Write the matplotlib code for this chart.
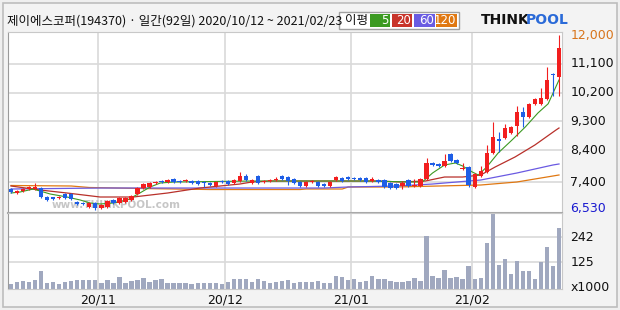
import matplotlib
matplotlib.use('Agg')
import matplotlib.pyplot as plt
from matplotlib.patches import Rectangle
import numpy as np
import pandas as pd

plt.rcParams['font.family'] = ['Noto Sans CJK KR', 'DejaVu Sans']

# trading days 2020/10/12 ~ 2021/02/23 (92)
holidays = ['2020-12-25', '2020-12-31', '2021-01-01', '2021-02-11', '2021-02-12']
dates = pd.bdate_range('2020-10-12', '2021-02-23').drop(pd.to_datetime(holidays))

opens = [7186, 7061, 7124, 7186, 7186, 7217, 6936, 6936, 6905, 7030,
         7030, 6780, 6749, 6624, 6749, 6592, 6624, 6842, 6749, 6780,
         6842, 7030, 7217, 7249, 7374, 7436, 7405, 7499, 7436, 7436,
         7436, 7436, 7405, 7374, 7280, 7436, 7436, 7374, 7436, 7592,
         7374, 7592, 7405, 7436, 7467, 7592, 7561, 7499, 7405, 7280,
         7405, 7405, 7342, 7280, 7467, 7530, 7561, 7530, 7530, 7530,
         7436, 7467, 7467, 7374, 7342, 7280, 7467, 7280, 7280, 7499,
         8000, 7968, 7905, 8281, 8093, 7812, 7874, 7249, 7592, 7718,
         8312, 8750, 8781, 8937, 9156, 9593, 9437, 9843, 9843, 10000,
         10781, 10687]
highs = [7217, 7155, 7217, 7280, 7374, 7249, 6967, 6936, 6967, 7061,
         7061, 6811, 6780, 6780, 6780, 6717, 6842, 6874, 6936, 6936,
         6999, 7249, 7374, 7405, 7436, 7467, 7499, 7530, 7467, 7499,
         7467, 7467, 7436, 7405, 7436, 7467, 7467, 7499, 7718, 7655,
         7499, 7624, 7467, 7499, 7561, 7624, 7592, 7530, 7436, 7436,
         7467, 7436, 7374, 7436, 7592, 7561, 7592, 7561, 7561, 7561,
         7561, 7499, 7499, 7405, 7374, 7436, 7499, 7499, 7530, 8155,
         8031, 8000, 8281, 8312, 8125, 8000, 7905, 7686, 7905, 8562,
         9281, 8968, 9218, 9156, 9781, 9749, 9875, 10031, 10343, 11000,
         10812, 12000]
lows = [7061, 7030, 7092, 7155, 7155, 6905, 6811, 6842, 6874, 6874,
        6842, 6686, 6686, 6592, 6530, 6561, 6592, 6717, 6717, 6749,
        6811, 6999, 7186, 7217, 7342, 7374, 7374, 7374, 7374, 7405,
        7342, 7311, 7249, 7280, 7249, 7374, 7311, 7342, 7405, 7436,
        7342, 7342, 7374, 7405, 7436, 7467, 7311, 7342, 7249, 7249,
        7374, 7249, 7249, 7249, 7436, 7405, 7467, 7467, 7436, 7374,
        7405, 7374, 7217, 7186, 7186, 7186, 7249, 7249, 7249, 7467,
        7905, 7874, 7874, 8031, 7968, 7780, 7249, 7217, 7561, 7686,
        8281, 8343, 8750, 8906, 8843, 9124, 9406, 9812, 9812, 9968,
        10093, 10093]
closes = [7092, 7124, 7186, 7249, 7249, 6936, 6842, 6874, 6936, 6905,
          6874, 6717, 6717, 6749, 6592, 6686, 6811, 6749, 6905, 6905,
          6967, 7217, 7342, 7374, 7405, 7405, 7467, 7405, 7405, 7467,
          7374, 7342, 7374, 7311, 7405, 7405, 7342, 7467, 7592, 7467,
          7467, 7374, 7436, 7467, 7499, 7499, 7436, 7374, 7280, 7405,
          7436, 7280, 7280, 7405, 7561, 7436, 7499, 7499, 7467, 7405,
          7499, 7405, 7249, 7217, 7217, 7374, 7280, 7311, 7499, 8000,
          7937, 7905, 8062, 8062, 8000, 7843, 7311, 7655, 7749, 8312,
          8812, 8687, 9093, 9124, 9593, 9437, 9843, 10000, 10031, 10594,
          10750, 11594]
volumes = [22, 32, 35, 32, 40, 82, 26, 34, 23, 31,
           37, 40, 43, 40, 40, 28, 40, 28, 54, 28,
           35, 43, 52, 34, 43, 48, 29, 28, 26, 26,
           23, 29, 26, 26, 26, 23, 31, 48, 48, 48,
           31, 48, 35, 29, 34, 38, 40, 28, 34, 34,
           32, 35, 28, 28, 62, 57, 40, 48, 31, 35,
           62, 48, 45, 35, 34, 34, 38, 52, 35, 248,
           62, 52, 89, 52, 57, 48, 108, 48, 49, 214,
           350, 114, 140, 72, 131, 86, 83, 48, 125, 196,
           108, 283]

# moving averages (bar index, price)
ma5_idx = [0, 1.5, 3.7, 6.5, 9.3, 11.5, 13.1, 14.8, 17, 19.3, 21.4, 23.1, 24.8, 27,
           40, 50, 60, 66, 68.3, 70, 72, 73.8, 75, 76.6, 77.6, 79, 80.9, 83.2, 85.4,
           87.5, 89.2, 91]
ma5_val = [7061, 7092, 7186, 7030, 6936, 6842, 6749, 6717, 6749, 6842, 7061, 7249, 7374, 7405,
           7436, 7436, 7436, 7405, 7405, 7686, 7937, 8000, 7905, 7718, 7624, 7874, 8312, 8718, 9124,
           9562, 9850, 10594]
ma20_idx = [0, 4.8, 9.3, 14.8, 20.3, 26, 31.4, 38, 40, 43, 61, 64.6, 68.8, 72, 75, 78,
            80.4, 83.7, 87, 90.5, 91]
ma20_val = [7280, 7155, 7061, 6936, 6936, 7061, 7217, 7342, 7405, 7436, 7436, 7405, 7436, 7561, 7561, 7624,
            7874, 8187, 8562, 9030, 9093]
ma60_idx = [0, 15, 52, 56, 64, 70, 76, 78, 84, 90, 91]
ma60_val = [7186, 7217, 7217, 7249, 7280, 7342, 7436, 7467, 7686, 7937, 7968]
ma120_idx = [0, 10, 13, 22, 33, 48, 49, 55, 56, 64, 78, 84, 91]
ma120_val = [7296, 7280, 7233, 7201, 7170, 7170, 7186, 7186, 7249, 7249, 7311, 7405, 7624]

price_ticks = [7400, 8400, 9300, 10200, 11100]
price_labels = ['7,400', '8,400', '9,300', '10,200', '11,100']
vol_ticks = [125, 242]
month_labels = ['20/11', '20/12', '21/01', '21/02']

UP = '#f21e1e'
DOWN = '#1e5ee6'
GRID = '#d9d9d9'

fig = plt.figure(figsize=(6.2, 3.1), dpi=100, facecolor='#efefef')
W, H = 620.0, 310.0

def fx(px):
    return px / W

def fy(py):
    return 1 - py / H

# header strip and border
fig.patches.append(Rectangle((fx(3), fy(307)), fx(614), 304 / H, transform=fig.transFigure,
                             facecolor='#f3f3f3', edgecolor='#bdbdbd', lw=1.2, zorder=-2))

ax = fig.add_axes([fx(8), fy(213), fx(554), (213 - 32) / H])
axv = fig.add_axes([fx(8), fy(289), fx(554), (289 - 213) / H])

x = np.arange(len(closes))
o = np.array(opens)
c = np.array(closes)
up = c >= o
colors = np.where(up, UP, DOWN)

# month grid
month_pos = []
for m in [(2020, 11), (2020, 12), (2021, 1), (2021, 2)]:
    k = np.argmax((dates.year == m[0]) & (dates.month == m[1]))
    month_pos.append(k - 0.5)

for a in (ax, axv):
    a.set_facecolor('white')
    a.set_xlim(-0.5, 91.5)
    for p in month_pos:
        a.axvline(p, color=GRID, lw=1.2, zorder=0)
    a.set_xticks([])
    a.set_yticks([])
    for s in a.spines.values():
        s.set_color('#c8c8c8')
    a.spines['left'].set_color('#9a9a9a')

ax.set_ylim(6436, 12094)
for t in price_ticks:
    ax.axhline(t, color=GRID, lw=1.2, zorder=0)
ax.spines['bottom'].set_color('#a8a8a8')
ax.spines['bottom'].set_linewidth(1.5)

# watermark
ax.text(17.5, 6540, 'www.THINKPOOL.com', color='#c6c6c6', fontsize=7.5, fontweight='bold',
        family='DejaVu Sans', ha='center', va='bottom', zorder=1)

# moving averages
ax.plot(ma120_idx, ma120_val, color='#e07812', lw=0.9, zorder=2)
ax.plot(ma60_idx, ma60_val, color='#6a5ae2', lw=0.9, zorder=2)
ax.plot(ma20_idx, ma20_val, color='#b8302a', lw=0.9, zorder=2)
ax.plot(ma5_idx, ma5_val, color='#3c9a22', lw=0.8, zorder=2)

# candles
ax.vlines(x, lows, highs, colors=colors, lw=0.8, zorder=3)
body_h = np.maximum(np.abs(c - o), 25)
ax.bar(x, body_h, bottom=np.minimum(o, c), width=0.72, color=colors, zorder=4)

# volume
axv.set_ylim(0, 354)
for t in vol_ticks:
    axv.axhline(t, color=GRID, lw=1.2, zorder=0)
axv.bar(x, volumes, width=0.72, color='#a0a8bf', zorder=2)

# right labels
ax.text(1.015, (12000 - 6436) / (12094 - 6436), '12,000', transform=ax.transAxes,
        color='#d8741a', fontsize=9, va='center', family='DejaVu Sans')
for t, lab in zip(price_ticks, price_labels):
    ax.text(1.015, (t - 6436) / (12094 - 6436), lab, transform=ax.transAxes,
            color='#111111', fontsize=9, va='center', family='DejaVu Sans')
ax.text(1.015, (6530 - 6436) / (12094 - 6436) + 0.01, '6,530', transform=ax.transAxes,
        color='#1a1ad0', fontsize=9, va='center', family='DejaVu Sans')
for t in vol_ticks:
    axv.text(1.015, t / 354, str(t), transform=axv.transAxes, color='#111111',
             fontsize=9, va='center', family='DejaVu Sans')
axv.text(1.015, 0.02, 'x1000', transform=axv.transAxes, color='#111111',
         fontsize=9, va='center', family='DejaVu Sans')

for p, lab in zip(month_pos, month_labels):
    axv.text(p, -0.15, lab, transform=axv.get_xaxis_transform(), ha='center', va='center',
             fontsize=9, color='#111111', family='DejaVu Sans')

# title
fig.text(fx(7), fy(21), '제이에스코퍼(194370) · 일간(92일) 2020/10/12 ~ 2021/02/23',
         fontsize=9, va='center', ha='left', color='#111111')

# legend box
fig.patches.append(Rectangle((fx(339), fy(29)), fx(120), 17 / H, transform=fig.transFigure,
                             facecolor='white', edgecolor='#a0a0a0', lw=1))
fig.text(fx(356), fy(20.5), '이평', fontsize=9, ha='center', va='center', color='#111111')
for (x0, x1, col, lab) in [(370, 390, '#3c9a22', '5'), (392, 412, '#c8342a', '20'),
                           (414, 435, '#6a5ce2', '60'), (436, 457, '#e07812', '120')]:
    fig.patches.append(Rectangle((fx(x0), fy(27)), fx(x1 - x0), 13 / H,
                                 transform=fig.transFigure, facecolor=col, edgecolor='none'))
    fig.text(fx(x1 - 1), fy(20.5), lab, fontsize=8.5, ha='right', va='center', color='white',
             family='DejaVu Sans')

# logo
fig.text(fx(481), fy(20.5), 'THINK', fontsize=10, fontweight='bold', color='#111111',
         ha='left', va='center', family='DejaVu Sans')
fig.text(fx(526), fy(20.5), 'POOL', fontsize=10, fontweight='bold', color='#2a6ad8',
         ha='left', va='center', family='DejaVu Sans')

fig.savefig('out.png', dpi=100, facecolor=fig.get_facecolor())
